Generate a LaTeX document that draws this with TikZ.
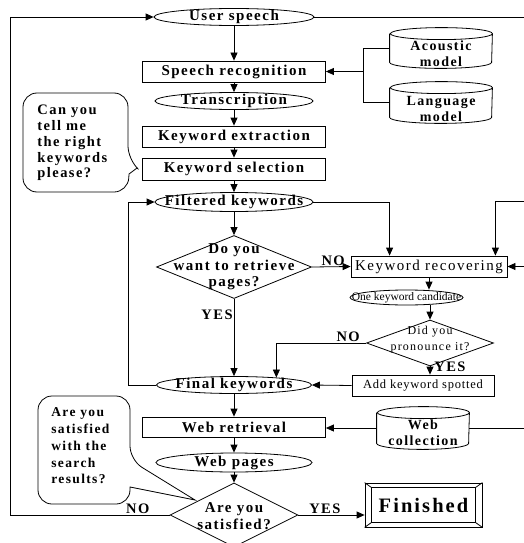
\documentclass[tikz,border=0pt]{standalone}
\usepackage{fontspec}
\setmainfont{Liberation Serif}
\newfontfamily\spc[LetterSpace=10]{Liberation Serif}
\newfontfamily\spcs[LetterSpace=6]{Liberation Serif}
\usetikzlibrary{arrows.meta,positioning,calc,shapes.geometric}
\newcommand{\lblfont}{\spc\bfseries\fontsize{15}{16.5}\selectfont}
\newcommand{\thinfont}{\fontsize{11.5}{16}\selectfont}
% drum outline round a node: #1 node, #2 half width
\newcommand{\drum}[2]{%
  \draw ([yshift=-6pt]#1.north west) -- ([yshift=6pt]#1.south west)
    arc[start angle=180, end angle=360, x radius=#2pt, y radius=6pt]
    -- ([yshift=-6pt]#1.north east)
    arc[start angle=0, end angle=360, x radius=#2pt, y radius=6pt];}

\tikzset{
  arr/.style={-{Triangle[length=8pt,width=7pt]}},
  box/.style={draw, minimum width=183pt, minimum height=21pt, inner sep=0pt, font=\lblfont},
  oval/.style={draw, ellipse, minimum width=158pt, minimum height=17pt, inner sep=0pt},
  otext/.style={font=\lblfont, inner sep=0pt},
  ctext/.style={font=\spc\bfseries\fontsize{14}{16}\selectfont, inner sep=0pt, align=center},
  decision/.style={draw, diamond, inner sep=0pt},
  cyl/.style={minimum width=102pt, minimum height=40pt, inner sep=0pt},
  tag/.style={font=\spc\bfseries\fontsize{14.5}{16}\selectfont, inner sep=1pt},
  note/.style={align=left, inner sep=0pt, anchor=west}
}

\begin{document}
\begin{tikzpicture}[x=1pt, y=-1pt, line width=0.8pt]
\useasboundingbox (0,0) rectangle (524,543);

% main column
\node[oval, minimum width=160pt, label={[otext]center:User speech}] (speech) at (234,17) {};
\node[box] (recog) at (234,71.5) {Speech recognition};
\node[oval, label={[otext]center:Transcription}] (trans) at (234,101) {};
\node[box] (extract) at (234,136.5) {Keyword extraction};
\node[box, minimum height=22pt] (select) at (234,169) {Keyword selection};
\node[oval, minimum height=19pt, label={[otext]center:Filtered keywords}] (filt) at (234,202) {};
\node[decision, minimum width=155pt, minimum height=63pt,
  label={[otext, align=center]center:Do you\\want to retrieve\\pages?}] (retr) at (234,267) {};
\node[oval, minimum width=155pt, label={[otext]center:Final keywords}] (final) at (234,385) {};
\node[box, minimum height=20pt] (webret) at (234,427) {Web retrieval};
\node[oval, minimum width=156pt, minimum height=19pt, label={[otext]center:Web pages}] (pages) at (234,462.5) {};
\node[decision, minimum width=128pt, minimum height=64pt,
  label={[otext, align=center, yshift=-1pt]center:Are you\\satisfied?}] (sat) at (234,515) {};

% models
\node[cyl, label={[ctext, yshift=-6pt]center:Acoustic\\model}] (acou) at (441,48) {};
\node[cyl, minimum height=41pt, label={[ctext, yshift=-6pt]center:Language\\model}] (lang) at (441,102.5) {};
\drum{acou}{51}
\drum{lang}{51}

% recovering branch
\node[box, minimum width=156pt, font=\spc\fontsize{15}{16}\selectfont] (recov) at (429,266.5) {Keyword recovering};
\node[oval, minimum width=113pt, minimum height=15pt, label={[inner sep=0pt, font=\thinfont]center:One keyword candidate}] (cand) at (406.5,297.5) {};
\node[decision, minimum width=127pt, minimum height=46pt,
  label={[inner sep=0pt, font=\spc\fontsize{12}{16}\selectfont, align=center, yshift=3pt]center:Did you\\pronounce it?}] (pron) at (430,343) {};
\node[draw, minimum width=142pt, minimum height=21pt, inner sep=0pt, font=\spcs\fontsize{12.5}{14}\selectfont] (spot) at (423,385.5) {Add keyword spotted};

% web collection and end
\node[cyl, minimum width=92pt, minimum height=42pt, label={[ctext, yshift=-5pt]center:Web\\collection}] (webcol) at (423,428) {};
\drum{webcol}{46}
\node[draw, minimum width=117pt, minimum height=44pt, font=\spc\bfseries\fontsize{20.5}{22}\selectfont] (fin) at (423.5,505) {Finished};
\draw ([shift={(7pt,-5pt)}]fin.north west) rectangle ([shift={(-7pt,5pt)}]fin.south east);
\foreach \c/\dx/\dy in {north west/7/-5, north east/-7/-5, south west/7/5, south east/-7/5}
  \draw (fin.\c) -- ++(\dx pt,\dy pt);

% callouts
\node[note, font=\spc\bfseries\fontsize{14.5}{15.8}\selectfont] (ask) at (37,143) {Can you\\tell me\\the right\\keywords\\please?};
\draw (128,160) -- (137,168) -- (129,174) [rounded corners=14pt] -- (128,192) -- (23,192) -- (23,93) -- (128,93) -- cycle;
\node[note, font=\spc\bfseries\fontsize{13.5}{16.7}\selectfont] (askb) at (51,446) {Are you\\satisfied\\with the\\search\\results?};
\draw (130,460) -- (195,500) -- (130,487) [rounded corners=14pt] -- (130,504) -- (38,504) -- (38,396) -- (130,396) -- cycle;

% picture edge
\coordinate (eTop) at (524,17);
\coordinate (eRec) at (524,201);
\coordinate (eIn) at (524,266.5);
\coordinate (eWeb) at (524,428);

% main flow
\draw[arr] (speech) -- (recog);
\draw[arr] (recog) -- (trans);
\draw[arr] (trans) -- (extract);
\draw[arr] (extract) -- (select);
\draw[arr] (select) -- (filt);
\draw[arr] (filt) -- (retr);
\draw[arr] (retr.south) -- node[tag, left, pos=0.2] {YES} (final.north);
\draw[arr] (final) -- (webret);
\draw[arr] (webret) -- (pages);
\draw[arr] (pages) -- (sat);
\draw[arr] (sat.east) -- node[tag, above, pos=0.4] {YES} (sat.east -| fin.west);
\draw[arr] (sat.west) -- node[tag, above, pos=0.2] {NO} ++(-159,0) |- (speech.west);
\draw[arr] (final.west) -- ++(-28,0) |- (filt.west);
\draw (speech.east) -- (eTop);

% models into recognition
\draw (acou.west) -- ++(-26,0) |- (lang.west);
\draw[arr] ([xshift=-26pt]acou.west |- recog.east) -- (recog.east);

% recovering loop
\draw[arr] (filt.east) -| ([xshift=39pt]recov.north west);
\draw[arr] (eRec) -| ([xshift=-12pt]recov.north east);
\draw[arr] (eIn) -- (recov.east);
\draw[arr] (retr.east) -- node[tag, above, pos=0.55] {NO} (recov.west);
\draw[arr] (recov.south) -- (cand.north -| recov.south);
\draw[arr] (cand.south -| pron.north) -- (pron.north);
\draw[arr] (pron.south) -- node[tag, right, pos=0.1, xshift=3pt] {YES} (pron.south |- spot.north);
\draw[arr] (pron.west) -| node[tag, above, pos=0.1] {NO} (final.10);
\draw[arr] (spot.west) -- (final.east);

% web collection
\draw[arr] (webcol.west) -- (webcol.west -| webret.east);
\draw (webcol.east) -- (eWeb);
\end{tikzpicture}
\end{document}
